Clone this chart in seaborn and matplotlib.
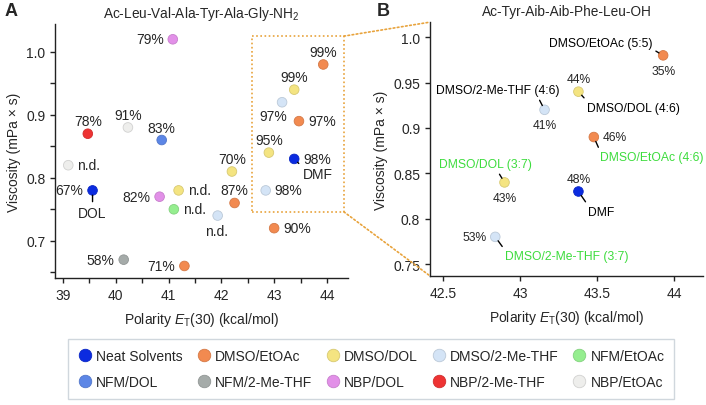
import pandas as pd
import seaborn as sns
import matplotlib.pyplot as plt
from matplotlib.colors import to_rgb
from matplotlib.lines import Line2D
from matplotlib.patches import Rectangle, ConnectionPatch
from matplotlib.ticker import MultipleLocator

# solvent groups (legend order) and colours
groups = ["Neat Solvents", "DMSO/EtOAc", "DMSO/DOL", "DMSO/2-Me-THF", "NFM/EtOAc",
          "NFM/DOL", "NFM/2-Me-THF", "NBP/DOL", "NBP/2-Me-THF", "NBP/EtOAc"]
group_colors = ["#0b2be0", "#f28a50", "#f4e481", "#d4e4f6", "#95ee8f",
                "#5c86e6", "#a5aba9", "#e290e8", "#ee3333", "#eeeeec"]

# panel A: Ac-Leu-Val-Ala-Tyr-Ala-Gly-NH2
a_group = ["NBP/DOL", "NBP/2-Me-THF", "NBP/EtOAc", "NFM/DOL", "NBP/EtOAc", "DMSO/DOL",
           "Neat Solvents", "NBP/DOL", "DMSO/DOL", "NFM/EtOAc", "DMSO/2-Me-THF",
           "DMSO/EtOAc", "DMSO/2-Me-THF", "DMSO/EtOAc", "NFM/2-Me-THF", "DMSO/EtOAc",
           "DMSO/EtOAc", "DMSO/DOL", "DMSO/2-Me-THF", "DMSO/EtOAc", "DMSO/DOL",
           "Neat Solvents"]
a_polarity = [41.08, 39.47, 40.23, 40.87, 39.10, 42.20, 39.56, 40.83, 41.19, 41.10, 41.93,
              42.25, 42.84, 43.00, 40.15, 41.30, 43.93, 43.38, 43.15, 43.47, 42.90, 43.38]
a_viscosity = [1.02, 0.87, 0.88, 0.86, 0.82, 0.81, 0.78, 0.77, 0.78, 0.75, 0.74,
               0.76, 0.78, 0.72, 0.67, 0.66, 0.98, 0.94, 0.92, 0.89, 0.84, 0.83]
a_yield = ["79%", "78%", "91%", "83%", "n.d.", "70%", "67%", "82%", "n.d.", "n.d.", "n.d.",
           "87%", "98%", "90%", "58%", "71%", "99%", "99%", "97%", "97%", "95%", "98%"]
a_neat_names = ["DOL", "DMF"]

# panel B: Ac-Tyr-Aib-Aib-Phe-Leu-OH
b_group = ["DMSO/EtOAc", "DMSO/DOL", "DMSO/2-Me-THF", "DMSO/EtOAc", "DMSO/DOL",
           "Neat Solvents", "DMSO/2-Me-THF"]
b_name = ["DMSO/EtOAc (5:5)", "DMSO/DOL (4:6)", "DMSO/2-Me-THF (4:6)", "DMSO/EtOAc (4:6)",
          "DMSO/DOL (3:7)", "DMF", "DMSO/2-Me-THF (3:7)"]
b_polarity = [43.93, 43.38, 43.16, 43.48, 42.90, 43.38, 42.84]
b_viscosity = [0.98, 0.94, 0.92, 0.89, 0.84, 0.83, 0.78]
b_yield = ["35%", "44%", "41%", "46%", "43%", "48%", "53%"]
b_green = [False, False, False, True, True, False, True]

# label placement (offset points)
PLACE = {"above": (0, 9, "center"), "below": (0, -11, "center"),
         "left": (-6.5, 0, "right"), "right": (6.5, 0, "left"),
         "below-left": (-6, -10, "center"), "below-l": (-1, -11, "center")}
a_place = ["left", "above", "above", "above", "right", "above", "left", "left", "right",
           "right", "below-l", "above", "right", "right", "left", "left", "above", "above",
           "below-left", "right", "above", "right"]
a_neat_offset = [(0, -16, "center", (0.5, 1)), (6, -11, "left", (0, 1))]
b_place = ["below", "above", "below", "right", "below", "above", "left"]
b_name_offset = [(-8, 9, "right", (1, 0)), (6.5, -11.5, "left", (0, 1)),
                 (11, 14, "right", (0.82, 0)), (4.5, -14.5, "left", (0, 1)),
                 (-14, 13, "center", (0.63, 0)), (7, -14.5, "left", (0, 1)),
                 (7, -14, "left", (0, 1))]

sns.set_style("ticks")
plt.rcParams["font.family"] = ["Liberation Sans", "DejaVu Sans"]
plt.rcParams["mathtext.fontset"] = "custom"
plt.rcParams["mathtext.rm"] = "Liberation Sans"
plt.rcParams["mathtext.it"] = "Liberation Sans:italic"
FS = 10
FS_B = 8.7
GREEN = "#3ddc3d"
ORANGE = "#e8a33c"

palette = dict(zip(groups, group_colors))
df_a = pd.DataFrame({"group": a_group, "x": a_polarity, "y": a_viscosity, "label": a_yield})
df_b = pd.DataFrame({"group": b_group, "x": b_polarity, "y": b_viscosity, "label": b_yield,
                     "name": b_name})

fig = plt.figure(figsize=(7.06, 4.06), dpi=100)
ax_a = fig.add_axes([0.078, 0.313, 0.415, 0.625])
ax_b = fig.add_axes([0.609, 0.318, 0.387, 0.625])


def draw_points(ax, df):
    sns.scatterplot(data=df, x="x", y="y", hue="group", palette=palette, s=48,
                    legend=False, ax=ax, zorder=3)
    coll = ax.collections[0]
    ec = coll.get_facecolors().copy()
    ec[:, :3] = ec[:, :3] * 0.88
    coll.set_edgecolors(ec)
    coll.set_linewidth(0.6)


def style_axis(ax):
    sns.despine(ax=ax)
    for sp in ["left", "bottom"]:
        ax.spines[sp].set_linewidth(1.0)
        ax.spines[sp].set_color("#222222")
    ax.tick_params(which="both", direction="out", length=3.5, width=1.0,
                   labelsize=FS, color="#222222")
    ax.set_xlabel("Polarity $\\mathit{E}_\\mathrm{T}$(30) (kcal/mol)", fontsize=FS,
                  labelpad=6)
    ax.set_ylabel("Viscosity (mPa × s)", fontsize=FS, labelpad=4)


# ---- panel A
draw_points(ax_a, df_a)
style_axis(ax_a)
ax_a.set_xlim(38.85, 44.4)
ax_a.set_ylim(0.641, 1.044)
ax_a.set_xticks([39, 40, 41, 42, 43, 44])
ax_a.set_yticks([0.7, 0.8, 0.9, 1.0], ["0.7", "0.8", "0.9", "1.0"])
ax_a.xaxis.set_minor_locator(MultipleLocator(0.5))
ax_a.yaxis.set_minor_locator(MultipleLocator(0.05))
ax_a.set_title("Ac-Leu-Val-Ala-Tyr-Ala-Gly-NH$_2$", fontsize=9.8, pad=5)

for (x, y, lab), pl in zip(df_a[["x", "y", "label"]].values, a_place):
    dx, dy, ha = PLACE[pl]
    ax_a.annotate(lab, (x, y), xytext=(dx, dy), textcoords="offset points",
                  ha=ha, va="center", fontsize=FS)

neat_a = df_a[df_a["group"] == "Neat Solvents"]
for (x, y), name, (dx, dy, ha, rp) in zip(neat_a[["x", "y"]].values, a_neat_names,
                                          a_neat_offset):
    ax_a.annotate(name, (x, y), xytext=(dx, dy), textcoords="offset points",
                  ha=ha, va="center", fontsize=FS,
                  arrowprops=dict(arrowstyle="-", color="black", lw=1.0,
                                  shrinkA=0.5, shrinkB=3.5, relpos=rp))

# zoom box
box = (42.58, 0.746, 44.32 - 42.58, 1.025 - 0.746)
ax_a.add_patch(Rectangle(box[:2], box[2], box[3], fill=False, ec=ORANGE, lw=1.2,
                         ls=(0, (1, 1.5)), clip_on=False, zorder=1))

# ---- panel B
draw_points(ax_b, df_b)
style_axis(ax_b)
ax_b.set_xlim(42.416, 44.19)
ax_b.set_ylim(0.737, 1.0166)
ax_b.set_xticks([42.5, 43, 43.5, 44], ["42.5", "43", "43.5", "44"])
ax_b.set_yticks([0.75, 0.8, 0.85, 0.9, 0.95, 1.0],
                ["0.75", "0.8", "0.85", "0.9", "0.95", "1.0"])
ax_b.set_title("Ac-Tyr-Aib-Aib-Phe-Leu-OH", fontsize=9.8, pad=5)

for (x, y, lab), pl in zip(df_b[["x", "y", "label"]].values, b_place):
    dx, dy, ha = PLACE[pl]
    ax_b.annotate(lab, (x, y), xytext=(dx, dy), textcoords="offset points",
                  ha=ha, va="center", fontsize=FS_B)

for (x, y, name), green, (dx, dy, ha, rp) in zip(df_b[["x", "y", "name"]].values, b_green,
                                                 b_name_offset):
    ax_b.annotate(name, (x, y), xytext=(dx, dy), textcoords="offset points",
                  ha=ha, va="center", fontsize=FS_B,
                  color=GREEN if green else "black",
                  arrowprops=dict(arrowstyle="-", color="black", lw=1.0,
                                  shrinkA=0.5, shrinkB=3.5, relpos=rp))

# connector lines between the box and panel B
for ya, yb in [(box[1] + box[3], 1), (box[1], 0)]:
    con = ConnectionPatch(xyA=(box[0] + box[2], ya), coordsA=ax_a.transData,
                          xyB=(0, yb), coordsB=ax_b.transAxes,
                          color=ORANGE, lw=1.2, ls=(0, (1, 1.5)))
    fig.add_artist(con)

# panel letters
fig.text(0.006, 0.992, "A", fontsize=13, fontweight="bold", va="top")
fig.text(0.533, 0.992, "B", fontsize=13, fontweight="bold", va="top")

# legend (column-major filling -> reorder for row layout)
order = [0, 5, 1, 6, 2, 7, 3, 8, 4, 9]
handles = [Line2D([], [], ls="", marker="o", ms=9, mfc=group_colors[i],
                  mec=tuple(c * 0.88 for c in to_rgb(group_colors[i])),
                  mew=0.6, label=groups[i]) for i in order]
leg = fig.legend(handles=handles, ncol=5, loc="lower center",
                 bbox_to_anchor=(0.526, -0.002), fontsize=FS, frameon=True,
                 fancybox=False, handletextpad=0.3, columnspacing=1.0,
                 borderpad=0.7, labelspacing=0.9, handlelength=1.0)
leg.get_frame().set_edgecolor("#c5cdd5")
leg.get_frame().set_linewidth(1.0)

fig.savefig("out.png", dpi=100)
